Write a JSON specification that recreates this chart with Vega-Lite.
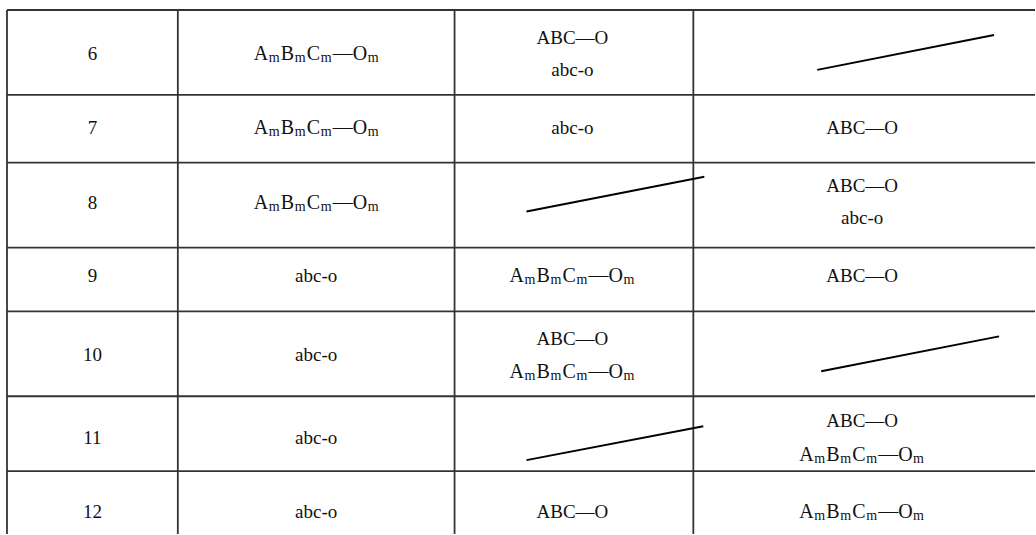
{
  "$schema": "https://vega.github.io/schema/vega-lite/v6.json",
  "width": 1036,
  "height": 535,
  "autosize": {"type": "fit", "contains": "padding"},
  "padding": 0,
  "background": "white",
  "config": {"view": {"stroke": null}},
  "datasets": {
    "grid": [
      {"x1": 7, "x2": 1036, "y1": 10, "y2": 10},
      {"x1": 7, "x2": 1036, "y1": 95, "y2": 95},
      {"x1": 7, "x2": 1036, "y1": 163, "y2": 163},
      {"x1": 7, "x2": 1036, "y1": 248, "y2": 248},
      {"x1": 7, "x2": 1036, "y1": 312, "y2": 312},
      {"x1": 7, "x2": 1036, "y1": 397, "y2": 397},
      {"x1": 7, "x2": 1036, "y1": 472, "y2": 472},
      {"x1": 7, "x2": 7, "y1": 10, "y2": 535},
      {"x1": 178, "x2": 178, "y1": 10, "y2": 535},
      {"x1": 455, "x2": 455, "y1": 10, "y2": 535},
      {"x1": 694, "x2": 694, "y1": 10, "y2": 535}
    ],
    "slash": [
      {"row": 6, "col": 4, "x1": 818, "y1": 70, "x2": 995, "y2": 35},
      {"row": 8, "col": 3, "x1": 527, "y1": 212, "x2": 705, "y2": 177},
      {"row": 10, "col": 4, "x1": 822, "y1": 372, "x2": 1000, "y2": 337},
      {"row": 11, "col": 3, "x1": 527, "y1": 461, "x2": 704, "y2": 427}
    ],
    "cells": [
      {"row": 6, "col": 1, "text": "6", "x": 92.5, "y": 60.5},
      {"row": 7, "col": 1, "text": "7", "x": 92.5, "y": 134.5},
      {"row": 8, "col": 1, "text": "8", "x": 92.5, "y": 209.5},
      {"row": 9, "col": 1, "text": "9", "x": 92.5, "y": 282.5},
      {"row": 10, "col": 1, "text": "10", "x": 92.5, "y": 361.5},
      {"row": 11, "col": 1, "text": "11", "x": 92.5, "y": 444.5},
      {"row": 12, "col": 1, "text": "12", "x": 92.5, "y": 518.5},
      {"row": 9, "col": 2, "text": "abc-o", "x": 316.5, "y": 282.5},
      {"row": 10, "col": 2, "text": "abc-o", "x": 316.5, "y": 361.5},
      {"row": 11, "col": 2, "text": "abc-o", "x": 316.5, "y": 444.5},
      {"row": 12, "col": 2, "text": "abc-o", "x": 316.5, "y": 518.5},
      {"row": 6, "col": 3, "text": "ABC—O", "x": 573, "y": 44.5},
      {"row": 6, "col": 3, "text": "abc-o", "x": 573, "y": 76.5},
      {"row": 7, "col": 3, "text": "abc-o", "x": 573, "y": 134.5},
      {"row": 10, "col": 3, "text": "ABC—O", "x": 573, "y": 345.5},
      {"row": 12, "col": 3, "text": "ABC—O", "x": 573, "y": 518.5},
      {"row": 7, "col": 4, "text": "ABC—O", "x": 863, "y": 134.5},
      {"row": 8, "col": 4, "text": "ABC—O", "x": 863, "y": 192.5},
      {"row": 8, "col": 4, "text": "abc-o", "x": 863, "y": 224.5},
      {"row": 9, "col": 4, "text": "ABC—O", "x": 863, "y": 282.5},
      {"row": 11, "col": 4, "text": "ABC—O", "x": 863, "y": 427.5}
    ],
    "formula": [
      {"row": 6, "col": 2, "part": "letter", "text": "A", "x": 254, "y": 60.5},
      {"row": 6, "col": 2, "part": "sub", "text": "m", "x": 269, "y": 60.5},
      {"row": 6, "col": 2, "part": "letter", "text": "B", "x": 281, "y": 60.5},
      {"row": 6, "col": 2, "part": "sub", "text": "m", "x": 295, "y": 60.5},
      {"row": 6, "col": 2, "part": "letter", "text": "C", "x": 307, "y": 60.5},
      {"row": 6, "col": 2, "part": "sub", "text": "m", "x": 321, "y": 60.5},
      {"row": 6, "col": 2, "part": "letter", "text": "—O", "x": 333, "y": 60.5},
      {"row": 6, "col": 2, "part": "sub", "text": "m", "x": 368, "y": 60.5},

      {"row": 7, "col": 2, "part": "letter", "text": "A", "x": 254, "y": 134.5},
      {"row": 7, "col": 2, "part": "sub", "text": "m", "x": 269, "y": 134.5},
      {"row": 7, "col": 2, "part": "letter", "text": "B", "x": 281, "y": 134.5},
      {"row": 7, "col": 2, "part": "sub", "text": "m", "x": 295, "y": 134.5},
      {"row": 7, "col": 2, "part": "letter", "text": "C", "x": 307, "y": 134.5},
      {"row": 7, "col": 2, "part": "sub", "text": "m", "x": 321, "y": 134.5},
      {"row": 7, "col": 2, "part": "letter", "text": "—O", "x": 333, "y": 134.5},
      {"row": 7, "col": 2, "part": "sub", "text": "m", "x": 368, "y": 134.5},

      {"row": 8, "col": 2, "part": "letter", "text": "A", "x": 254, "y": 209.5},
      {"row": 8, "col": 2, "part": "sub", "text": "m", "x": 269, "y": 209.5},
      {"row": 8, "col": 2, "part": "letter", "text": "B", "x": 281, "y": 209.5},
      {"row": 8, "col": 2, "part": "sub", "text": "m", "x": 295, "y": 209.5},
      {"row": 8, "col": 2, "part": "letter", "text": "C", "x": 307, "y": 209.5},
      {"row": 8, "col": 2, "part": "sub", "text": "m", "x": 321, "y": 209.5},
      {"row": 8, "col": 2, "part": "letter", "text": "—O", "x": 333, "y": 209.5},
      {"row": 8, "col": 2, "part": "sub", "text": "m", "x": 368, "y": 209.5},

      {"row": 9, "col": 3, "part": "letter", "text": "A", "x": 510, "y": 282.5},
      {"row": 9, "col": 3, "part": "sub", "text": "m", "x": 525, "y": 282.5},
      {"row": 9, "col": 3, "part": "letter", "text": "B", "x": 537, "y": 282.5},
      {"row": 9, "col": 3, "part": "sub", "text": "m", "x": 551, "y": 282.5},
      {"row": 9, "col": 3, "part": "letter", "text": "C", "x": 563, "y": 282.5},
      {"row": 9, "col": 3, "part": "sub", "text": "m", "x": 577, "y": 282.5},
      {"row": 9, "col": 3, "part": "letter", "text": "—O", "x": 589, "y": 282.5},
      {"row": 9, "col": 3, "part": "sub", "text": "m", "x": 624, "y": 282.5},

      {"row": 10, "col": 3, "part": "letter", "text": "A", "x": 510, "y": 378.5},
      {"row": 10, "col": 3, "part": "sub", "text": "m", "x": 525, "y": 378.5},
      {"row": 10, "col": 3, "part": "letter", "text": "B", "x": 537, "y": 378.5},
      {"row": 10, "col": 3, "part": "sub", "text": "m", "x": 551, "y": 378.5},
      {"row": 10, "col": 3, "part": "letter", "text": "C", "x": 563, "y": 378.5},
      {"row": 10, "col": 3, "part": "sub", "text": "m", "x": 577, "y": 378.5},
      {"row": 10, "col": 3, "part": "letter", "text": "—O", "x": 589, "y": 378.5},
      {"row": 10, "col": 3, "part": "sub", "text": "m", "x": 624, "y": 378.5},

      {"row": 11, "col": 4, "part": "letter", "text": "A", "x": 800, "y": 461.5},
      {"row": 11, "col": 4, "part": "sub", "text": "m", "x": 815, "y": 461.5},
      {"row": 11, "col": 4, "part": "letter", "text": "B", "x": 827, "y": 461.5},
      {"row": 11, "col": 4, "part": "sub", "text": "m", "x": 841, "y": 461.5},
      {"row": 11, "col": 4, "part": "letter", "text": "C", "x": 853, "y": 461.5},
      {"row": 11, "col": 4, "part": "sub", "text": "m", "x": 867, "y": 461.5},
      {"row": 11, "col": 4, "part": "letter", "text": "—O", "x": 879, "y": 461.5},
      {"row": 11, "col": 4, "part": "sub", "text": "m", "x": 914, "y": 461.5},

      {"row": 12, "col": 4, "part": "letter", "text": "A", "x": 800, "y": 518.5},
      {"row": 12, "col": 4, "part": "sub", "text": "m", "x": 815, "y": 518.5},
      {"row": 12, "col": 4, "part": "letter", "text": "B", "x": 827, "y": 518.5},
      {"row": 12, "col": 4, "part": "sub", "text": "m", "x": 841, "y": 518.5},
      {"row": 12, "col": 4, "part": "letter", "text": "C", "x": 853, "y": 518.5},
      {"row": 12, "col": 4, "part": "sub", "text": "m", "x": 867, "y": 518.5},
      {"row": 12, "col": 4, "part": "letter", "text": "—O", "x": 879, "y": 518.5},
      {"row": 12, "col": 4, "part": "sub", "text": "m", "x": 914, "y": 518.5}
    ]
  },
  "layer": [
    {
      "data": {"name": "grid"},
      "mark": {"type": "rule", "color": "#333333", "strokeWidth": 1.8},
      "encoding": {
        "x": {"field": "x1", "type": "quantitative", "scale": {"domain": [0, 1036], "nice": false, "zero": false}, "axis": null},
        "x2": {"field": "x2"},
        "y": {"field": "y1", "type": "quantitative", "scale": {"domain": [0, 535], "nice": false, "zero": false, "reverse": true}, "axis": null},
        "y2": {"field": "y2"}
      }
    },
    {
      "data": {"name": "slash"},
      "mark": {"type": "rule", "color": "#000000", "strokeWidth": 2},
      "encoding": {
        "x": {"field": "x1", "type": "quantitative"},
        "x2": {"field": "x2"},
        "y": {"field": "y1", "type": "quantitative"},
        "y2": {"field": "y2"}
      }
    },
    {
      "data": {"name": "cells"},
      "mark": {"type": "text", "font": "Liberation Serif, Times New Roman, serif", "fontSize": 19, "align": "center", "baseline": "alphabetic", "color": "#111111"},
      "encoding": {
        "x": {"field": "x", "type": "quantitative"},
        "y": {"field": "y", "type": "quantitative"},
        "text": {"field": "text"}
      }
    },
    {
      "data": {"name": "formula"},
      "transform": [{"filter": "datum.part === 'letter'"}],
      "mark": {"type": "text", "font": "Liberation Serif, Times New Roman, serif", "fontSize": 20, "align": "left", "baseline": "alphabetic", "color": "#111111"},
      "encoding": {
        "x": {"field": "x", "type": "quantitative"},
        "y": {"field": "y", "type": "quantitative"},
        "text": {"field": "text"}
      }
    },
    {
      "data": {"name": "formula"},
      "transform": [{"filter": "datum.part === 'sub'"}],
      "mark": {"type": "text", "font": "Liberation Serif, Times New Roman, serif", "fontSize": 14, "align": "left", "baseline": "alphabetic", "dy": 2, "color": "#111111"},
      "encoding": {
        "x": {"field": "x", "type": "quantitative"},
        "y": {"field": "y", "type": "quantitative"},
        "text": {"field": "text"}
      }
    }
  ]
}
